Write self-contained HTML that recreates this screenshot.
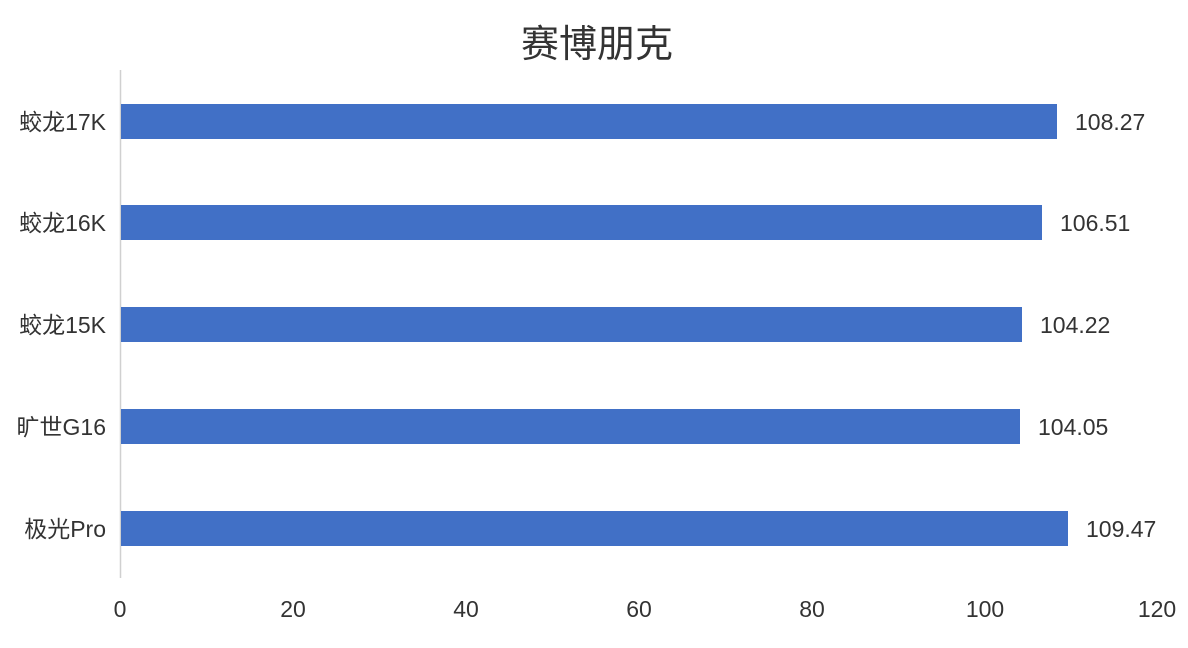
<!DOCTYPE html>
<html><head><meta charset="utf-8"><style>
body{margin:0;background:#fff}
svg text{font-family:"Liberation Sans","Noto Sans CJK SC",sans-serif;fill:#333}
</style></head><body>
<svg width="1188" height="643" xmlns="http://www.w3.org/2000/svg">
<rect width="1188" height="643" fill="#fff"/>
<text x="597" y="57" font-size="38" text-anchor="middle" fill="#444">赛博朋克</text>
<line x1="120.5" y1="70" x2="120.5" y2="578" stroke="#d0d0d0" stroke-width="1.5"/>
<g fill="#4170c6">
<rect x="121" y="104" width="936" height="35"/>
<rect x="121" y="205" width="921" height="35"/>
<rect x="121" y="307" width="901" height="35"/>
<rect x="121" y="409" width="899" height="35"/>
<rect x="121" y="511" width="947" height="35"/>
</g>
<g font-size="23" text-anchor="end">
<text x="106" y="130">蛟龙17K</text>
<text x="106" y="231">蛟龙16K</text>
<text x="106" y="333">蛟龙15K</text>
<text x="106" y="435">旷世G16</text>
<text x="106" y="537">极光Pro</text>
</g>
<g font-size="23">
<text x="1075" y="130">108.27</text>
<text x="1060" y="231">106.51</text>
<text x="1040" y="333">104.22</text>
<text x="1038" y="435">104.05</text>
<text x="1086" y="537">109.47</text>
</g>
<g font-size="23" text-anchor="middle">
<text x="120" y="617">0</text>
<text x="293" y="617">20</text>
<text x="466" y="617">40</text>
<text x="639" y="617">60</text>
<text x="812" y="617">80</text>
<text x="985" y="617">100</text>
<text x="1157" y="617">120</text>
</g>
</svg>
</body></html>
